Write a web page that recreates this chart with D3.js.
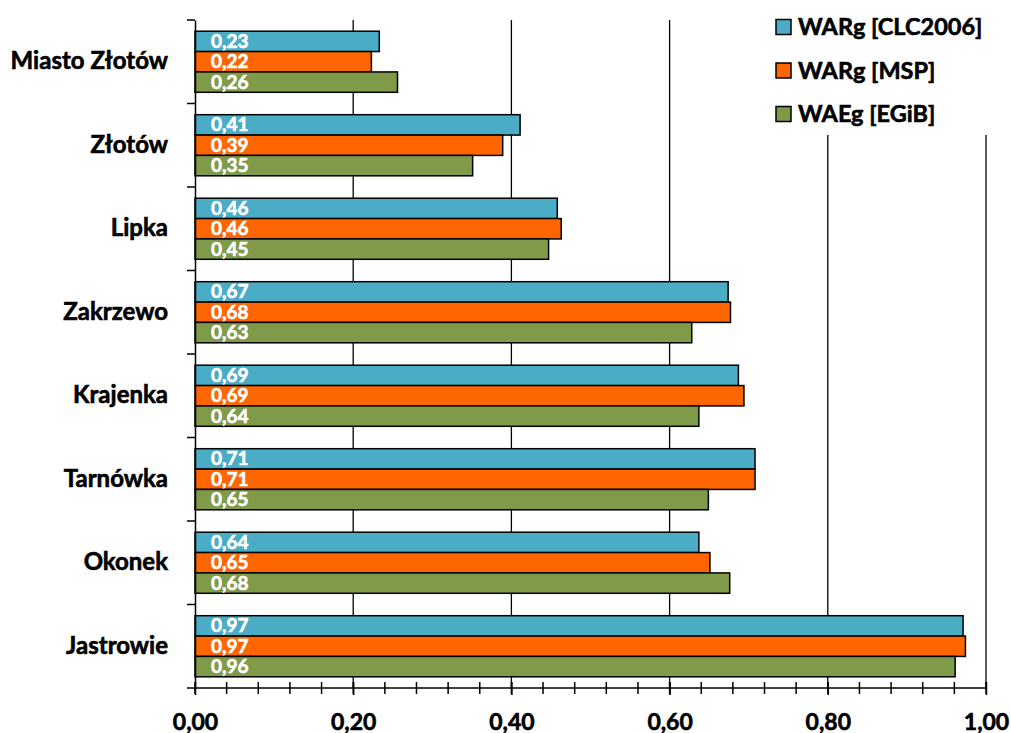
<!DOCTYPE html>
<html><head><meta charset="utf-8">
<script src="https://cdn.jsdelivr.net/npm/d3@7"></script>
<style>body{margin:0;background:#fff}svg{display:block}text{font-family:Lato,"Open Sans",sans-serif;font-weight:bold}</style>
</head><body><svg id="c" width="1011" height="733"></svg>
<script>
const categories = ["Miasto Złotów","Złotów","Lipka","Zakrzewo","Krajenka","Tarnówka","Okonek","Jastrowie"];
const seriesNames = ["WARg [CLC2006]","WARg [MSP]","WAEg [EGiB]"];
const seriesColors = ["#4BACC6","#FF6600","#7F9A48"];
const clc2006 = [0.233,0.411,0.458,0.674,0.687,0.708,0.637,0.971];
const msp     = [0.223,0.389,0.463,0.677,0.694,0.708,0.651,0.974];
const egib    = [0.256,0.351,0.447,0.628,0.637,0.649,0.676,0.961];
const xTicks = [0,0.2,0.4,0.6,0.8,1.0];
const xMinor = d3.range(0,1.0001,0.04);

const series = [clc2006, msp, egib];
const svg = d3.select("#c");
const x = d3.scaleLinear().domain([0,1]).range([195,986]);
const y = d3.scaleBand().domain(categories).range([20,688]).padding(0);
const yi = d3.scaleBand().domain([0,1,2]).range([0,y.bandwidth()]).paddingInner(0).paddingOuter(0.55);
const fmt = v => v.toFixed(2).replace(".",",");

// gridlines
svg.append("g").selectAll("line").data(xTicks.slice(1)).join("line")
  .attr("x1",d=>x(d)).attr("x2",d=>x(d)).attr("y1",20).attr("y2",688)
  .attr("stroke","#000").attr("stroke-width",1.3);

// bars
const groups = svg.append("g").selectAll("g").data(categories).join("g")
  .attr("transform",c=>`translate(0,${y(c)})`);
groups.each(function(c,ci){
  const g = d3.select(this);
  series.forEach((s,si)=>{
    g.append("rect").attr("x",x(0)).attr("y",yi(si))
      .attr("width",x(s[ci])-x(0)).attr("height",yi.bandwidth())
      .attr("fill",seriesColors[si]).attr("stroke","#000").attr("stroke-width",1.5);
    g.append("text").attr("x",x(0)+16).attr("y",yi(si)+yi.bandwidth()/2+6.5)
      .attr("fill","#fff").attr("stroke","#fff").attr("stroke-width",0.6)
      .attr("font-size",19).text(fmt(s[ci]));
  });
});

// y axis
const yAxis = d3.axisLeft(y).tickSize(0).tickPadding(27);
const ya = svg.append("g").attr("transform",`translate(${x(0)},0)`).call(yAxis);
ya.select(".domain").attr("stroke","#000").attr("stroke-width",1.5);
ya.selectAll("text").attr("font-size",24).attr("fill","#000").attr("stroke","#000").attr("stroke-width",0.6)
  .attr("font-family","Lato,sans-serif");
// y boundary ticks
svg.append("g").selectAll("line").data(d3.range(categories.length+1)).join("line")
  .attr("x1",x(0)-8).attr("x2",x(0)).attr("y1",i=>20+i*y.step()).attr("y2",i=>20+i*y.step())
  .attr("stroke","#000").attr("stroke-width",1.5);

// x axis
const xa = svg.append("g").attr("transform","translate(0,688)")
  .call(d3.axisBottom(x).tickValues(xTicks).tickSize(7).tickPadding(19).tickFormat(fmt));
xa.select(".domain").remove();
xa.append("line").attr("x1",x(0)).attr("x2",x(1)).attr("stroke","#000").attr("stroke-width",1.5);
xa.selectAll(".tick line").attr("y1",-6).attr("stroke","#000").attr("stroke-width",1.5);
xa.selectAll("text").attr("font-size",23).attr("fill","#000").attr("stroke","#000").attr("stroke-width",0.6)
  .attr("font-family","Lato,sans-serif");
xa.append("g").selectAll("line").data(xMinor).join("line")
  .attr("x1",d=>x(d)).attr("x2",d=>x(d)).attr("y1",-6).attr("y2",6)
  .attr("stroke","#000").attr("stroke-width",1.5);

// legend
const lg = svg.append("g");
lg.append("rect").attr("x",766).attr("y",0).attr("width",245).attr("height",135).attr("fill","#fff");
seriesNames.forEach((n,i)=>{
  const cy = 27 + i*43.5;
  lg.append("rect").attr("x",776).attr("y",cy-7.5).attr("width",15).attr("height",15)
    .attr("fill",seriesColors[i]).attr("stroke","#000").attr("stroke-width",1.5);
  lg.append("text").attr("x",798).attr("y",cy+8).attr("font-size",23.5).attr("fill","#000")
    .attr("stroke","#000").attr("stroke-width",0.6).text(n);
});
</script></body></html>
